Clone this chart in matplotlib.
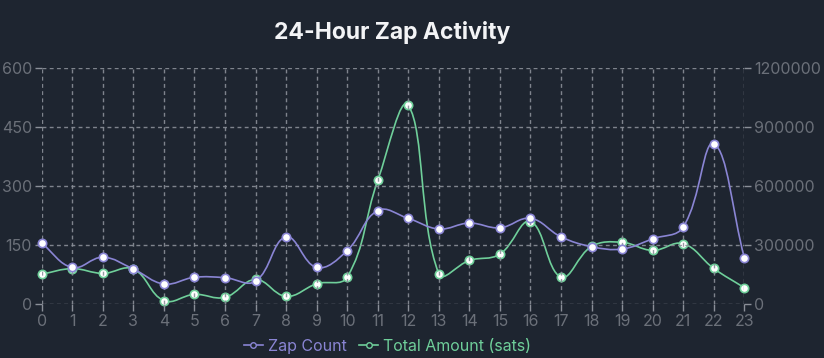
import numpy as np
import matplotlib
matplotlib.use("Agg")
import matplotlib.pyplot as plt
from matplotlib.path import Path
from matplotlib.patches import PathPatch
from matplotlib.lines import Line2D
from matplotlib.ticker import FuncFormatter

hours = list(range(24))
zap_count = [155, 93, 119, 89, 51, 68, 67, 58, 171, 93, 136, 238, 218, 191, 206, 194,
             218, 171, 146, 140, 166, 196, 408, 118]
total_sats = [152000, 180000, 156000, 178000, 17000, 49000, 34000, 125000, 39000, 103000,
              137000, 629000, 1012000, 154000, 222000, 254000, 420000, 137000, 293000,
              314000, 273000, 307000, 181000, 83000]
left_ticks = [0, 150, 300, 450, 600]
right_ticks = [0, 300000, 600000, 900000, 1200000]

BG = "#1e2530"
GRID = "#8a8f98"
TICK = "#6b7079"
PURPLE = "#8a85d4"
GREEN = "#6fcf9a"

plt.rcParams['font.family'] = ['Inter', 'DejaVu Sans']

fig = plt.figure(figsize=(8.24, 3.58), dpi=100, facecolor=BG)
ax = fig.add_axes([0.0506, 0.1508, 0.8527, 0.6584])
ax.set_facecolor(BG)
ax2 = ax.twinx()

ax.set_xlim(0, 23)
ax.set_ylim(0, 600)
ax2.set_ylim(0, 1200000)

for a in (ax, ax2):
    for s in a.spines.values():
        s.set_visible(False)

ax.set_xticks(hours)
ax.set_yticks(left_ticks)
ax2.set_yticks(right_ticks)
ax2.yaxis.set_major_formatter(FuncFormatter(lambda v, p: f"{int(v)}"))
ax2.yaxis.get_offset_text().set_visible(False)
ax.tick_params(axis='both', colors=GRID, labelcolor=TICK, labelsize=11.5, length=5, width=1.0, pad=2)
ax2.tick_params(axis='y', colors=GRID, labelcolor=TICK, labelsize=11.5, length=5, width=1.0, pad=2)
ax.grid(True, color=GRID, linestyle=(0, (2.8, 2.4)), linewidth=1.0, alpha=0.9)
ax.set_axisbelow(True)


def spline_path(a, xs, ys, tension=0.4):
    pts = a.transData.transform(np.column_stack([xs, ys]))
    n = len(pts)
    verts = [pts[0]]
    codes = [Path.MOVETO]
    cps = []
    for i in range(n):
        prev = pts[max(i - 1, 0)]
        cur = pts[i]
        nxt = pts[min(i + 1, n - 1)]
        d01 = np.hypot(*(cur - prev))
        d12 = np.hypot(*(nxt - cur))
        tot = d01 + d12
        s01 = d01 / tot if tot else 0
        s12 = d12 / tot if tot else 0
        cp_prev = cur - tension * s01 * (nxt - prev)
        cp_next = cur + tension * s12 * (nxt - prev)
        cps.append((cp_prev, cp_next))
    for i in range(1, n):
        verts += [cps[i - 1][1], cps[i][0], pts[i]]
        codes += [Path.CURVE4] * 3
    verts = a.transData.inverted().transform(np.array(verts))
    return Path(verts, codes)


fig.canvas.draw()
p1 = spline_path(ax, hours, zap_count)
ax.add_patch(PathPatch(p1, facecolor='none', edgecolor=PURPLE, linewidth=1.2, zorder=3))
p2 = spline_path(ax2, hours, total_sats)
ax2.add_patch(PathPatch(p2, facecolor='none', edgecolor=GREEN, linewidth=1.2, zorder=3))

ax2.plot(hours, total_sats, linestyle='none', marker='o', markersize=6,
         markerfacecolor='white', markeredgecolor=GREEN, markeredgewidth=1.2, clip_on=False, zorder=5)
ax.plot(hours, zap_count, linestyle='none', marker='o', markersize=6,
        markerfacecolor='white', markeredgecolor=PURPLE, markeredgewidth=1.2, clip_on=False, zorder=6)
ax.set_zorder(ax2.get_zorder() + 1)
ax.patch.set_visible(False)

fig.text(0.4757, 0.91, "24-Hour Zap Activity", ha='center', va='center', color='#f3f4f6',
         fontsize=16.5, fontweight='bold')

handles = [Line2D([], [], color=PURPLE, marker='o', markersize=4, markerfacecolor=BG,
                  markeredgecolor=PURPLE, linewidth=1.2),
           Line2D([], [], color=GREEN, marker='o', markersize=4, markerfacecolor=BG,
                  markeredgecolor=GREEN, linewidth=1.2)]
leg = fig.legend(handles, ["Zap Count", "Total Amount (sats)"], loc='center',
                 bbox_to_anchor=(0.47, 0.033), ncol=2, frameon=False, fontsize=11.5,
                 handlelength=1.2, handletextpad=0.3, columnspacing=0.8)
for t, c in zip(leg.get_texts(), [PURPLE, GREEN]):
    t.set_color(c)

fig.savefig("out.png", dpi=100, facecolor=BG)
